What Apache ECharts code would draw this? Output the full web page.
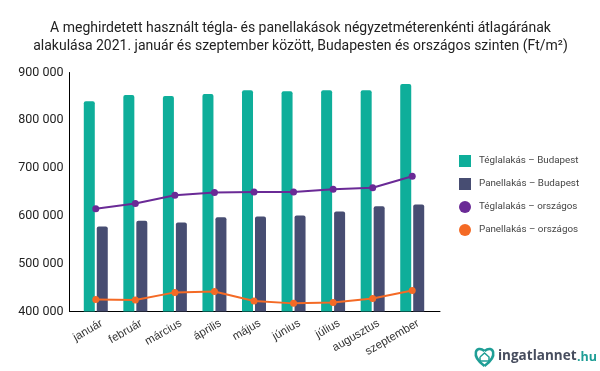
<!DOCTYPE html>
<html>
<head>
<meta charset="utf-8">
<style>html,body{margin:0;padding:0;background:#fff}#main{width:600px;height:371px}</style>
<script src="https://cdn.jsdelivr.net/npm/echarts@6/dist/echarts.min.js"></script>
</head>
<body>
<div id="main"></div>
<script>
var months = ['január', 'február', 'március', 'április', 'május', 'június', 'július', 'augusztus', 'szeptember'];
var yTicks = [400000, 500000, 600000, 700000, 800000, 900000];
var teglaBudapest = [840000, 853000, 851000, 855000, 863000, 861000, 863000, 863000, 876000];
var panelBudapest = [578000, 590000, 586000, 597000, 599000, 601000, 609000, 620000, 624000];
var teglaOrszagos = [615000, 626000, 643000, 649000, 650000, 650000, 656000, 659000, 683000];
var panelOrszagos = [425000, 424000, 440000, 442000, 422000, 417000, 419000, 427000, 444000];

var teal = '#0eae9a', navy = '#474d72', purple = '#6a2a96', orange = '#f46a25', logoTeal = '#1f9e96';
var chart = echarts.init(document.getElementById('main'), null, { renderer: 'canvas' });

function fmt(v) {
    return String(v).replace(/\B(?=(\d{3})+$)/g, ' ');
}

// csak a tengelyvonalakhoz / feliratokhoz kell, adat nincs rajta
function hiddenY(grid) {
    return {
        type: 'value',
        gridIndex: grid,
        min: yTicks[0],
        max: yTicks[yTicks.length - 1],
        interval: 100000,
        axisLine: { show: false },
        axisTick: { show: false },
        axisLabel: { show: false },
        splitLine: { show: false }
    };
}

// üres scatter: a jelmagyarázatban teli kör legyen, vonal nélkül
function legendDot(name, color) {
    return { name: name, type: 'scatter', data: [], itemStyle: { color: color, opacity: 1 } };
}

chart.setOption({
    animation: false,
    backgroundColor: '#fff',
    textStyle: { fontFamily: 'Roboto' },
    title: {
        text: 'A meghirdetett használt tégla- és panellakások négyzetméterenkénti átlagárának\nalakulása 2021. január és szeptember között, Budapesten és országos szinten (Ft/m²)',
        left: 295.5,
        top: 14,
        textAlign: 'center',
        textStyle: { fontSize: 14, fontWeight: 'normal', color: '#222', lineHeight: 18, fontFamily: 'Roboto' }
    },
    legend: {
        orient: 'vertical',
        left: 459,
        top: 155,
        padding: 0,
        itemWidth: 12,
        itemHeight: 12,
        itemGap: 11,
        textStyle: { fontSize: 9.8, color: '#444', padding: [0, 0, 0, 3] },
        data: [
            { name: 'Téglalakás – Budapest', icon: 'rect' },
            { name: 'Panellakás – Budapest', icon: 'rect' },
            { name: 'Téglalakás – országos', icon: 'circle' },
            { name: 'Panellakás – országos', icon: 'circle' }
        ]
    },
    grid: [
        { left: 76, top: 72.5, width: 356, height: 239 },
        { left: 69.5, top: 72.5, width: 370.5, height: 239 },
        { left: 82, top: 72.5, width: 356, height: 239 }
    ],
    xAxis: [
        {
            type: 'category',
            gridIndex: 0,
            data: months,
            axisLine: { show: false },
            axisTick: { show: false },
            axisLabel: { show: false }
        },
        {
            type: 'value',
            gridIndex: 1,
            axisLine: { show: true, onZero: false, lineStyle: { color: '#000', width: 1 } },
            axisTick: { show: false },
            axisLabel: { show: false },
            splitLine: { show: false }
        },
        {
            type: 'category',
            gridIndex: 2,
            data: months,
            axisLine: { show: false },
            axisTick: { show: false },
            axisLabel: { rotate: 30, fontSize: 11.5, color: '#333', margin: 11, interval: 0, fontFamily: 'Liberation Sans' }
        }
    ],
    yAxis: [
        hiddenY(0),
        {
            type: 'value',
            gridIndex: 1,
            min: yTicks[0],
            max: yTicks[yTicks.length - 1],
            interval: 100000,
            axisLine: { show: true, lineStyle: { color: '#000', width: 1 } },
            axisTick: { show: false },
            axisLabel: { fontSize: 12.5, color: '#222', margin: 6, padding: [2, 0, 0, 0], formatter: fmt },
            splitLine: { show: false }
        },
        hiddenY(2)
    ],
    series: [
        {
            name: 'Téglalakás – Budapest',
            type: 'bar',
            data: teglaBudapest,
            barWidth: 11,
            barGap: '18%',
            itemStyle: { color: teal, borderRadius: [2, 2, 0, 0] }
        },
        {
            name: 'Panellakás – Budapest',
            type: 'bar',
            data: panelBudapest,
            barWidth: 11,
            itemStyle: { color: navy, borderRadius: [2, 2, 0, 0] }
        },
        legendDot('Téglalakás – országos', purple),
        legendDot('Panellakás – országos', orange),
        {
            name: 'Téglalakás – országos',
            type: 'line',
            data: teglaOrszagos,
            symbol: 'circle',
            symbolSize: 7,
            lineStyle: { color: purple, width: 2 },
            itemStyle: { color: purple }
        },
        {
            name: 'Panellakás – országos',
            type: 'line',
            data: panelOrszagos,
            symbol: 'circle',
            symbolSize: 7,
            lineStyle: { color: orange, width: 2 },
            itemStyle: { color: orange }
        }
    ],
    graphic: [
        {
            type: 'text',
            x: 498,
            y: 349.5,
            style: {
                text: 'ingatlannet',
                fill: '#474d5e',
                font: 'bold 13.5px "Open Sans"'
            }
        },
        {
            type: 'text',
            x: 577,
            y: 350.5,
            style: {
                text: '.hu',
                fill: logoTeal,
                font: 'bold 12.5px "Open Sans"'
            }
        },
        // logo: szív + ház
        {
            type: 'bezierCurve',
            shape: { x1: 484.5, y1: 366, cpx1: 470, cpy1: 356, cpx2: 476, cpy2: 344, x2: 484.5, y2: 351 },
            style: { fill: 'none', stroke: logoTeal, lineWidth: 2.5 }
        },
        {
            type: 'bezierCurve',
            shape: { x1: 484.5, y1: 366, cpx1: 499, cpy1: 356, cpx2: 493, cpy2: 344, x2: 484.5, y2: 351 },
            style: { fill: 'none', stroke: logoTeal, lineWidth: 2.5 }
        },
        {
            type: 'polyline',
            shape: { points: [[480, 357], [484.5, 353], [489, 357], [489, 361], [480, 361], [480, 357]] },
            style: { fill: 'none', stroke: logoTeal, lineWidth: 1.5 }
        }
    ]
});
</script>
</body>
</html>
